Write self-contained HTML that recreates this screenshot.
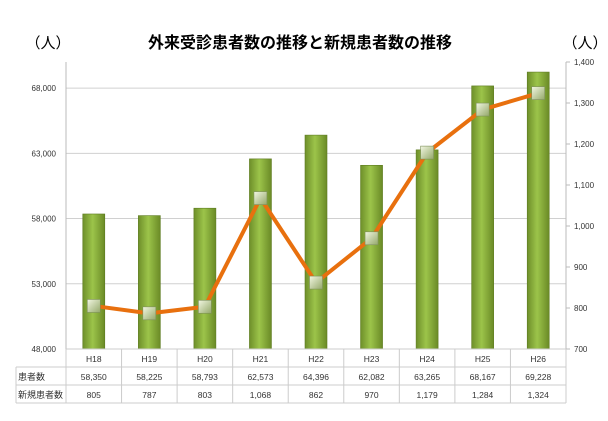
<!DOCTYPE html>
<html><head><meta charset="utf-8"><style>
body{margin:0;background:#fff;width:608px;height:416px;overflow:hidden;font-family:"Liberation Sans","Noto Sans CJK JP",sans-serif;}
</style></head><body>
<svg id="chart" width="608" height="416" xmlns="http://www.w3.org/2000/svg" font-family="Liberation Sans, Noto Sans CJK JP, sans-serif">
<defs>
<linearGradient id="barg" x1="0" x2="1" y1="0" y2="0">
<stop offset="0" stop-color="#6e8f2a"/><stop offset="0.45" stop-color="#9cc44a"/><stop offset="1" stop-color="#6a8a26"/>
</linearGradient>
<linearGradient id="mk" x1="0" x2="1" y1="0" y2="1">
<stop offset="0" stop-color="#f2f7e2"/><stop offset="1" stop-color="#94a86a"/>
</linearGradient>
</defs>
<text x="300" y="48" text-anchor="middle" font-size="16" font-weight="bold" fill="#000">外来受診患者数の推移と新規患者数の推移</text>
<text x="48" y="48" text-anchor="middle" font-size="15">（人）</text>
<text x="585" y="48" text-anchor="middle" font-size="15">（人）</text>
<g id="grid"></g><g id="bars"></g><g id="line"></g><g id="axes"></g><g id="table"></g>
</svg>
<script>
const categories=["H18","H19","H20","H21","H22","H23","H24","H25","H26"];
const patients=[58350,58225,58793,62573,64396,62082,63265,68167,69228];
const newPatients=[805,787,803,1068,862,970,1179,1284,1324];
const leftTicks=[48000,53000,58000,63000,68000];
const rightTicks=[700,800,900,1000,1100,1200,1300,1400];
const NS="http://www.w3.org/2000/svg";
const X0=66,X1=566,Y0=349,Y1=62;
const bw=(X1-X0)/categories.length;
const xc=i=>X0+bw*(i+0.5);
const yL=v=>Y0-(v-48000)/(70000-48000)*(Y0-Y1);
const yR=v=>Y0-(v-700)/(1400-700)*(Y0-Y1);
function mk(tag,attrs,parent,text){const e=document.createElementNS(NS,tag);for(const k in attrs)e.setAttribute(k,attrs[k]);if(text!==undefined)e.textContent=text;document.getElementById(parent).appendChild(e);return e;}
leftTicks.forEach(t=>{
 const g=mk("line",{x1:X0,x2:X1,y1:yL(t),y2:yL(t),stroke:"#d0d0d0","stroke-width":1},"grid");
 
 
 const l=mk("text",{x:X0-10,y:yL(t)+3,"text-anchor":"end","font-size":8,fill:"#333"},"axes",t.toLocaleString("en-US"));
 
 
});
rightTicks.forEach(t=>{
 const k=mk("line",{x1:X1,x2:X1+4,y1:yR(t),y2:yR(t),stroke:"#bbb"},"axes");
 
 
 const l=mk("text",{x:X1+8,y:yR(t)+3,"font-size":8,fill:"#333"},"axes",t.toLocaleString("en-US"));
 
 
});
const la=mk("line",{x1:X0,x2:X0,y1:Y1,y2:Y0,stroke:"#bbb"},"axes");


const ra=mk("line",{x1:X1,x2:X1,y1:Y1,y2:Y0,stroke:"#bbb"},"axes");


patients.forEach((v,i)=>{
 const b=mk("rect",{x:xc(i)-11,y:yL(v),width:22,height:Y0-yL(v),fill:"url(#barg)",stroke:"#5d7b20","stroke-width":0.6},"bars");
 
 
});
const pts=newPatients.map((v,i)=>xc(i)+","+yR(v)).join(" ");
const pl=mk("polyline",{points:pts,fill:"none",stroke:"#e8700e","stroke-width":4,"stroke-linejoin":"round"},"line");


newPatients.forEach((v,i)=>{
 const m=mk("rect",{x:xc(i)-6.5,y:yR(v)-6.5,width:13,height:13,fill:"url(#mk)",stroke:"#7d8f5a","stroke-width":0.6},"line");
 
 
});
// table
const TL=16,rows=[349,367,385,403];
rows.forEach((y,r)=>{
 const h=mk("line",{x1:r==0?X0:TL,x2:X1,y1:y,y2:y,stroke:"#ccc"},"table");
 
 
});
const vl=mk("line",{x1:TL,x2:TL,y1:367,y2:403,stroke:"#ccc"},"table");


for(let i=0;i<=categories.length;i++){
 const v=mk("line",{x1:X0+bw*i,x2:X0+bw*i,y1:349,y2:403,stroke:"#ccc"},"table");
 
 
}
const r1=mk("text",{x:TL+2,y:380,"font-size":9,fill:"#333"},"table","患者数");


const r2=mk("text",{x:TL+2,y:398,"font-size":9,fill:"#333"},"table","新規患者数");


categories.forEach((c,i)=>{
 const t=mk("text",{x:xc(i),y:362,"text-anchor":"middle","font-size":8.5,fill:"#333"},"table",c);
 
 
 const a=mk("text",{x:xc(i),y:380,"text-anchor":"middle","font-size":8.5,fill:"#333"},"table",patients[i].toLocaleString("en-US"));
 
 
 const b=mk("text",{x:xc(i),y:398,"text-anchor":"middle","font-size":8.5,fill:"#333"},"table",newPatients[i].toLocaleString("en-US"));
 
 
});
</script>
</body></html>
